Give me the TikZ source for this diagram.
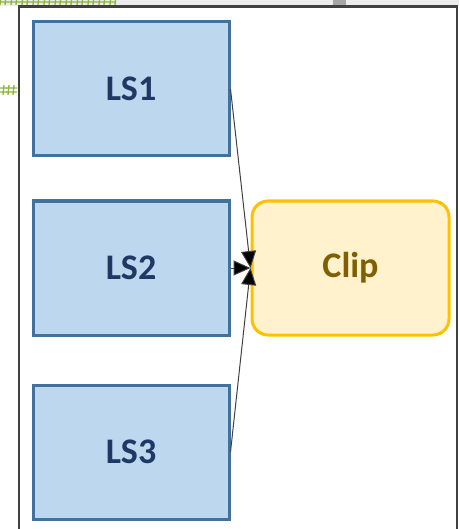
\documentclass[tikz,border=0pt]{standalone}
\usepackage{fontspec}
\setmainfont{Carlito}
\usetikzlibrary{arrows.meta}
\definecolor{lsfill}{HTML}{BDD7EE}
\definecolor{lsdraw}{HTML}{41719C}
\definecolor{lstext}{HTML}{1F3864}
\definecolor{clfill}{HTML}{FFF2CC}
\definecolor{cldraw}{HTML}{FFC000}
\definecolor{cltext}{HTML}{7F6000}
\definecolor{framec}{HTML}{404040}
\definecolor{stripc}{HTML}{ECECEC}
\definecolor{hashc}{HTML}{8DB83A}
\tikzset{
  lsbox/.style={draw=lsdraw, fill=lsfill, line width=3pt, minimum width=196pt, minimum height=134pt, inner sep=0pt, text=lstext, font=\fontsize{36}{42}\selectfont\bfseries},
  clipbox/.style={draw=cldraw, fill=clfill, line width=3pt, rounded corners=16pt, minimum width=197pt, minimum height=134pt, inner sep=0pt, text=cltext, font=\fontsize{36}{42}\selectfont\bfseries},
  conn/.style={draw=black!75, line width=1pt, -{Triangle[length=17pt,width=15pt,fill=black]}},
  hashmark/.pic={\draw[hashc, line width=1.3pt] (-3,-5) -- (-4,5) (2,-5) -- (1,5) (-6,-2) -- (5,-2) (-6,2) -- (5,2);}
}
\begin{document}
\begin{tikzpicture}[x=1pt,y=-1pt]
\useasboundingbox (0,0) rectangle (459,529);
% top strip (screenshot background)
\fill[stripc] (0,0) rectangle (459,6);
\begin{scope}
\clip (0,0) rectangle (116,6);
\foreach \i in {0,...,10} { \pic at (4+11*\i,0) {hashmark}; }
\end{scope}
\fill[gray!70] (333,0) rectangle (346,6);
\begin{scope}
\clip (0,80) rectangle (17,100);
\pic at (2,90) {hashmark};
\pic at (12,90) {hashmark};
\end{scope}
% frame
\draw[framec, line width=2.2pt] (19,535) -- (19,6.5) -- (457,6.5) -- (457,535);
% nodes
\node[lsbox] (ls1) at (131,89) {LS1};
\node[lsbox] (ls2) at (131,268) {LS2};
\node[lsbox] (ls3) at (131,452) {LS3};
\node[clipbox] (clip) at (350.5,268) {\raisebox{-2pt}{Clip}};
% connectors
\draw[conn] (ls1.east) -- (clip.west);
\draw[conn] (ls2.east) -- (clip.west);
\draw[conn] (ls3.east) -- (clip.west);
\end{tikzpicture}
\end{document}
